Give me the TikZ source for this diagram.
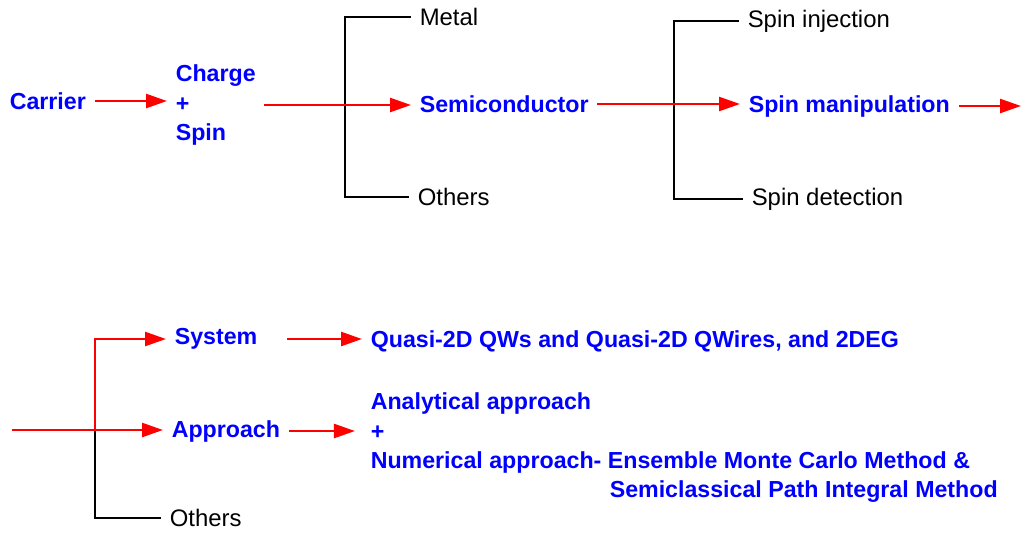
\documentclass[tikz,border=0pt]{standalone}
\usepackage{fontspec}
\setmainfont{Liberation Sans}
\usetikzlibrary{arrows.meta}

\begin{document}
\begin{tikzpicture}[x=0.02cm, y=-0.02cm,
  t/.style={anchor=west, inner sep=0pt, outer sep=5pt, font=\fontsize{13.6}{17}\selectfont},
  b/.style={t, text=blue, font=\fontsize{13.2}{17}\selectfont\bfseries},
  e/.style={-{Triangle[length=4.2mm, width=2.8mm]}, red, line width=1.4pt},
  br/.style={black, line width=0.6pt}]
  \useasboundingbox (0,0) rectangle (1024,532);
  % top row
  \node[b] (carrier) at (1,101) {Carrier};
  \node[b, align=left] (chg) at (167,105) {Charge\\+\\Spin};
  \node[t] (metal) at (411,17) {Metal};
  \node[b] (semi) at (411,104) {Semiconductor};
  \node[t] (others) at (409,197) {Others};
  \node[t] (inj) at (739,21) {Spin injection};
  \node[b] (manip) at (740,106) {Spin manipulation};
  \node[t] (det) at (743,199) {Spin detection};
  \coordinate (k1) at (345,102);
  \coordinate (k2) at (674,104);
  \coordinate (end1) at (1021,106);
  \draw[br] (metal.west) -| (k1) |- (others.west);
  \draw[br] (inj.west) -| (k2) |- (det.west);
  \draw[e] (carrier.east) -- (carrier.east -| chg.west);
  \draw[e] (chg.east) -- (chg.east -| semi.west);
  \draw[e] (semi.east) -- (semi.east -| manip.west);
  \draw[e] (manip.east) -- (manip.east -| end1);
  % bottom row
  \node[b] (system) at (166,339) {System};
  \node[b] (approach) at (163,431) {Approach};
  \node[t] (others2) at (161,518) {Others};
  \node[b] (quasi) at (362,341) {Quasi-2D QWs and Quasi-2D QWires, and 2DEG};
  \node[b, align=left] (anal) at (362,433) {Analytical approach\\+\\Numerical approach- Ensemble Monte Carlo Method \&};
  \node[b] (semi2) at (601,492) {Semiclassical Path Integral Method};
  \coordinate (in2) at (12,430);
  \coordinate (k3) at (95,430);
  \draw[br] (k3) |- (others2.west);
  \draw[e] (in2) -- (in2 -| approach.west);
  \draw[e] (k3) |- (system.west);
  \draw[e, shorten <=12pt] (system.east) -- (system.east -| quasi.west);
  \draw[e, shorten >=4pt] (approach.east) -- (approach.east -| anal.west);
\end{tikzpicture}
\end{document}
